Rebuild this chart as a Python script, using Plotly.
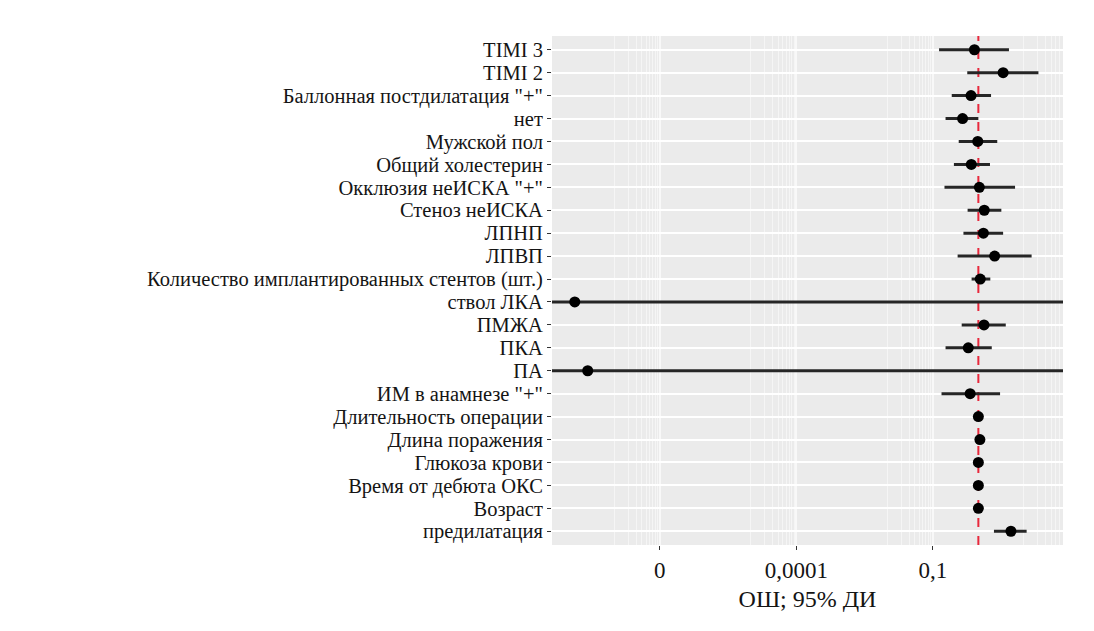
import plotly.graph_objects as go

labels = ["TIMI 3", "TIMI 2", "Баллонная постдилатация \"+\"", "нет", "Мужской пол",
          "Общий холестерин", "Окклюзия неИСКА \"+\"", "Стеноз неИСКА", "ЛПНП", "ЛПВП",
          "Количество имплантированных стентов (шт.)", "ствол ЛКА", "ПМЖА", "ПКА", "ПА",
          "ИМ в анамнезе \"+\"", "Длительность операции", "Длина поражения", "Глюкоза крови",
          "Время от дебюта ОКС", "Возраст", "предилатация"]
or_vals = [0.82, 3.5, 0.69, 0.45, 0.97, 0.70, 1.05, 1.35, 1.29, 2.28, 1.10, 1.35e-9,
           1.33, 0.60, 2.6e-9, 0.66, 1.0, 1.08, 1.0, 1.0, 1.0, 5.2]
ci_low = [0.137, 0.57, 0.26, 0.19, 0.37, 0.29, 0.18, 0.58, 0.47, 0.35, 0.71, 1e-30,
          0.43, 0.19, 1e-30, 0.155, 0.97, 0.99, 0.97, 0.97, 0.98, 2.2]
ci_high = [4.7, 20.9, 1.9, 1.0, 2.6, 1.8, 6.4, 3.2, 3.5, 14.8, 1.83, 1e30,
           4.0, 1.97, 1e30, 3.0, 1.03, 1.2, 1.04, 1.03, 1.03, 11.5]
tick_vals = [1e-7, 1e-4, 1e-1]
tick_text = ["0", "0,0001", "0,1"]
x_title = "ОШ; 95% ДИ"

minor_vals = [k * t / 10 for t in tick_vals + [100] for k in range(1, 10)]

lx, ly = [], []
for lab, lo, hi in zip(labels, ci_low, ci_high):
    lx += [lo, hi, None]
    ly += [lab, lab, None]

fig = go.Figure()
fig.add_trace(go.Scatter(x=lx, y=ly, mode="lines",
                         line=dict(color="#262626", width=3), hoverinfo="skip"))
fig.add_trace(go.Scatter(x=or_vals, y=labels, mode="markers",
                         marker=dict(color="black", size=11)))

fig.add_shape(type="line", x0=1, x1=1, xref="x", y0=0, y1=1, yref="paper",
              line=dict(color="#E8283C", width=2, dash="dash"), layer="below")

yfont = dict(family="Liberation Serif", size=20.5, color="#141414")
xfont = dict(family="Liberation Serif", size=23, color="#141414")
tfont = dict(family="Liberation Serif", size=24, color="#141414")
fig.update_layout(
    width=1094, height=631,
    margin=dict(l=552, r=31, t=36, b=86),
    paper_bgcolor="white", plot_bgcolor="#EBEBEB",
    showlegend=False, font=tfont,
    xaxis=dict(type="log", range=[-9.37, 1.86], tickvals=tick_vals, ticktext=tick_text,
               showgrid=True, gridcolor="#F8F8F8", gridwidth=2, zeroline=False,
               ticks="outside", ticklen=4, tickcolor="#333333", tickwidth=1,
               tickfont=xfont, showline=False,
               title=dict(text=x_title, font=tfont, standoff=8),
               minor=dict(tickvals=minor_vals, showgrid=True, gridcolor="#F5F5F5",
                          gridwidth=1, ticks="")),
    yaxis=dict(type="category", categoryorder="array", categoryarray=labels,
               tickmode="array", tickvals=labels, ticktext=labels,
               range=[21.6, -0.6], showgrid=True, gridcolor="white", gridwidth=2,
               ticks="outside", ticklen=4, tickcolor="#333333", tickwidth=1,
               tickfont=yfont, zeroline=False, showline=False),
)

fig.write_html("out.html")
